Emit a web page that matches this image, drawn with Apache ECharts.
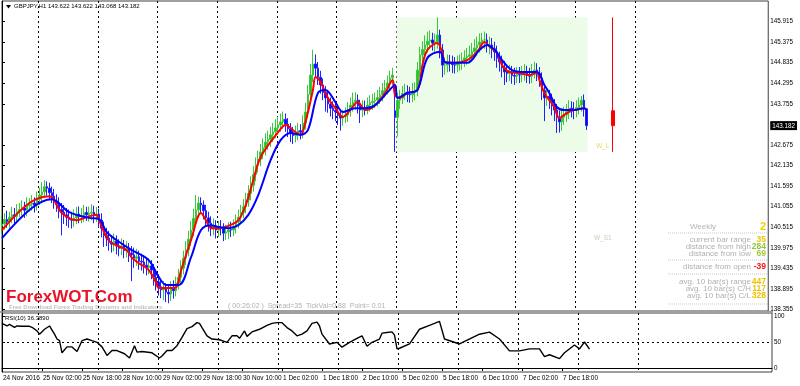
<!DOCTYPE html>
<html><head><meta charset="utf-8">
<script src="https://cdn.jsdelivr.net/npm/echarts@6/dist/echarts.min.js"></script>
<style>html,body{margin:0;padding:0;background:#fff}#c{width:800px;height:386px}</style>
</head><body><div id="c"></div>
<script>
// ---------- DATA ----------
const closes = [140.60,140.72,140.66,140.78,140.84,140.80,140.93,140.98,141.02,140.96,141.08,141.12,141.15,141.09,141.25,141.36,
141.44,141.58,141.54,141.42,141.33,141.20,141.12,140.98,140.91,140.84,140.78,140.72,140.70,140.76,140.86,140.80,
140.81,140.90,140.84,140.88,140.91,140.82,140.86,140.70,140.49,140.30,140.23,140.12,140.07,140.15,140.02,139.96,
140.02,139.90,139.95,139.84,139.79,139.70,139.74,139.62,139.60,139.52,139.46,139.50,139.39,139.20,139.08,138.95,
138.87,138.92,138.81,138.76,138.92,138.85,139.05,139.20,139.44,139.70,139.92,140.20,140.44,140.75,140.97,141.15,
141.10,140.95,140.76,140.62,140.49,140.55,140.44,140.50,140.49,140.36,140.39,140.45,140.44,140.52,140.65,140.78,
140.91,141.05,141.23,141.40,141.62,141.90,142.15,142.30,142.49,142.60,142.75,142.82,142.94,143.02,143.12,143.20,
143.28,143.35,143.22,143.10,142.99,142.92,142.98,143.05,143.01,143.25,143.54,144.00,144.51,144.80,144.69,144.45,
144.25,144.05,143.91,143.75,143.64,143.58,143.54,143.45,143.38,143.42,143.46,143.60,143.72,143.80,143.85,143.70,
143.59,143.65,143.64,143.72,143.78,143.82,143.85,143.92,143.99,144.10,144.17,144.30,144.43,144.51,143.40,143.85,
143.91,144.02,144.06,144.00,143.99,144.08,144.12,144.64,145.04,145.18,145.30,145.40,145.43,145.35,145.38,145.56,
145.17,144.77,144.77,144.85,144.83,144.78,144.77,144.82,144.85,144.90,144.96,145.00,145.04,145.12,145.22,145.30,
145.38,145.43,145.43,145.30,145.30,145.20,145.12,144.95,144.85,144.70,144.59,144.55,144.59,144.50,144.48,144.52,
144.51,144.55,144.59,144.50,144.48,144.60,144.64,144.55,144.43,144.10,143.91,143.95,143.85,143.70,143.59,143.40,
143.28,143.40,143.46,143.55,143.64,143.60,143.59,143.65,143.72,143.85,143.622,143.182];
const opens = [140.55,140.60,140.72,140.66,140.78,140.84,140.80,140.93,140.98,141.02,140.96,141.08,141.12,141.15,141.09,141.25,
141.36,141.44,141.58,141.54,141.42,141.33,141.20,141.12,140.98,140.91,140.84,140.78,140.72,140.70,140.76,140.86,
140.80,140.81,140.90,140.84,140.88,140.91,140.82,140.86,140.70,140.49,140.30,140.23,140.12,140.07,140.15,140.02,
139.96,140.02,139.90,139.95,139.84,139.79,139.70,139.74,139.62,139.60,139.52,139.46,139.50,139.39,139.20,139.08,
138.95,138.87,138.92,138.81,138.76,138.92,138.85,139.05,139.20,139.44,139.70,139.92,140.20,140.44,140.75,140.97,
141.15,141.10,140.95,140.76,140.62,140.49,140.55,140.44,140.50,140.49,140.36,140.39,140.45,140.44,140.52,140.65,
140.78,140.91,141.05,141.23,141.40,141.62,141.90,142.15,142.30,142.49,142.60,142.75,142.82,142.94,143.02,143.12,
143.20,143.28,143.35,143.22,143.10,142.99,142.92,142.98,143.05,143.01,143.25,143.54,144.00,144.51,144.80,144.69,
144.45,144.25,144.05,143.91,143.75,143.64,143.58,143.54,143.45,143.38,143.42,143.46,143.60,143.72,143.80,143.85,
143.70,143.59,143.65,143.64,143.72,143.78,143.82,143.85,143.92,143.99,144.10,144.17,144.30,144.43,143.572,143.40,
143.85,143.91,144.02,144.06,144.00,143.99,144.08,144.12,144.64,145.04,145.18,145.30,145.40,145.43,145.35,145.38,
145.56,145.17,144.77,144.77,144.85,144.83,144.78,144.77,144.82,144.85,144.90,144.96,145.00,145.04,145.12,145.22,
145.30,145.38,145.43,145.43,145.30,145.30,145.20,145.12,144.95,144.85,144.70,144.59,144.55,144.59,144.50,144.48,
144.52,144.51,144.55,144.59,144.50,144.48,144.60,144.64,144.55,144.43,144.10,143.91,143.95,143.85,143.70,143.59,
143.40,143.28,143.40,143.46,143.55,143.64,143.60,143.59,143.65,143.72,143.85,143.622];
const highs = [140.82,140.88,140.95,140.92,141.05,141.02,141.12,141.15,141.22,141.18,141.30,141.28,141.36,141.30,141.45,141.55,
141.70,141.75,141.72,141.68,141.58,141.52,141.38,141.30,141.15,141.10,141.02,140.98,140.92,140.98,141.05,141.06,
141.02,141.10,141.05,141.06,141.12,141.08,141.05,141.00,140.88,140.66,140.50,140.42,140.30,140.35,140.30,140.20,
140.22,140.18,140.15,140.10,140.02,139.98,139.95,139.90,139.82,139.78,139.72,139.70,139.65,139.55,139.40,139.28,
139.12,139.10,139.05,139.02,139.10,139.12,139.22,139.42,139.65,139.90,140.15,140.42,140.68,141.00,141.36,141.32,
141.30,141.22,141.10,140.92,140.80,140.75,140.70,140.68,140.70,140.62,140.58,140.65,140.66,140.72,140.85,140.98,
141.10,141.25,141.42,141.62,141.85,142.12,142.35,142.52,142.70,142.85,142.98,143.05,143.15,143.25,143.35,143.42,
143.50,143.55,143.50,143.38,143.25,143.15,143.18,143.25,143.22,143.45,143.78,144.25,144.80,145.17,145.05,144.85,
144.62,144.42,144.22,144.08,143.92,143.82,143.78,143.72,143.62,143.60,143.66,143.80,143.92,144.05,144.06,144.00,
143.86,143.85,143.84,143.92,143.98,144.02,144.05,144.12,144.20,144.30,144.38,144.50,144.62,144.70,144.25,144.05,
144.12,144.22,144.28,144.24,144.20,144.30,144.32,144.85,145.25,145.40,145.55,145.65,145.68,145.62,145.60,146.022,
145.70,145.32,144.98,145.05,145.04,145.02,144.98,145.02,145.05,145.10,145.16,145.22,145.28,145.35,145.45,145.52,
145.60,145.62,145.65,145.60,145.52,145.48,145.38,145.28,145.12,145.02,144.88,144.78,144.78,144.75,144.70,144.72,
144.72,144.75,144.80,144.75,144.70,144.80,144.86,144.82,144.72,144.58,144.28,144.15,144.12,144.02,143.88,143.75,
143.58,143.60,143.68,143.75,143.85,143.82,143.80,143.85,143.92,143.96,144.00,143.622];
const lows = [140.35,140.45,140.50,140.48,140.62,140.60,140.65,140.78,140.82,140.76,140.80,140.92,140.95,140.90,140.95,141.10,
141.20,141.28,141.35,141.25,141.15,141.00,140.92,140.75,140.30,140.60,140.55,140.50,140.48,140.52,140.60,140.62,
140.62,140.65,140.68,140.66,140.70,140.62,140.65,140.50,140.25,140.00,140.02,139.90,139.85,139.88,139.80,139.75,
139.78,139.70,139.72,139.60,139.10,139.45,139.50,139.40,139.38,139.30,139.25,139.28,139.15,138.98,138.85,138.72,
138.65,138.60,138.55,138.52,138.58,138.64,138.70,138.88,139.02,139.28,139.52,139.75,140.02,140.28,140.58,140.80,
140.90,140.72,140.55,140.40,140.28,140.30,140.22,140.26,140.30,140.15,140.18,140.20,140.26,140.28,140.35,140.48,
140.60,140.75,140.88,141.05,141.22,141.45,141.72,141.95,142.12,142.30,142.40,142.55,142.62,142.75,142.85,142.95,
143.02,143.10,143.02,142.88,142.75,142.70,142.74,142.80,142.82,142.85,143.08,143.38,143.85,144.32,144.45,144.25,
144.02,143.85,143.55,143.52,143.42,143.35,143.30,143.20,143.05,143.18,143.25,143.28,143.42,143.55,143.60,143.50,
143.25,143.40,143.45,143.48,143.55,143.60,143.64,143.68,143.75,143.82,143.92,144.00,144.12,144.25,142.492,142.90,
143.62,143.75,143.85,143.80,143.78,143.80,143.85,143.95,144.45,144.85,145.00,145.10,145.20,145.15,145.12,145.20,
144.95,144.45,144.52,144.58,144.60,144.56,144.55,144.58,144.62,144.65,144.72,144.78,144.82,144.88,144.95,145.02,
145.10,145.18,145.20,145.10,145.05,144.95,144.88,144.70,144.60,144.45,144.25,144.32,144.35,144.28,144.25,144.30,
144.30,144.32,144.36,144.30,144.28,144.30,144.42,144.35,144.20,143.85,143.30,143.70,143.62,143.45,143.30,142.99,
143.00,143.05,143.20,143.28,143.35,143.40,143.35,143.40,143.48,143.55,143.42,143.068];

const redMaIdx = [0,11,19,24,30,34,38,39,42,44,50,52,55,59,62,63,68,70,72,76,80,82,84,87,91,95,98,101,104,111,114,118,120,122,125,126,128,131,134,137,140,143,146,150,154,157,158,160,163,167,169,171,175,177,178,182,187,191,194,196,199,201,204,208,212,215,216,218,220,222,224,227,230,234,235];
const redMaVal = [140.44,141.15,141.33,140.89,140.70,140.78,140.84,140.70,140.26,140.10,139.92,139.73,139.57,139.39,139.05,138.92,138.92,138.94,139.39,140.18,140.89,140.70,140.49,140.49,140.55,140.70,141.10,141.75,142.36,143.01,143.20,143.01,142.94,143.28,144.12,144.46,144.33,143.91,143.64,143.41,143.59,143.80,143.59,143.72,144.04,144.38,143.99,143.91,144.04,144.12,144.77,145.17,145.35,145.09,144.85,144.83,144.90,145.12,145.38,145.25,145.09,144.77,144.59,144.56,144.51,144.56,144.38,144.04,143.85,143.67,143.38,143.51,143.59,143.64,143.59];
const blueMaIdx = [0,12,20,27,35,39,42,46,52,59,63,66,71,76,80,84,87,91,95,99,103,108,112,116,120,123,127,130,134,137,142,146,150,155,158,159,163,167,171,176,178,180,187,192,195,198,201,205,210,215,218,220,223,226,230,234,235];
const blueMaVal = [140.23,141.02,141.25,140.91,140.76,140.73,140.39,140.18,139.92,139.65,139.21,139.00,139.00,139.73,140.44,140.57,140.52,140.49,140.57,140.84,141.36,142.28,142.80,142.99,142.94,143.07,144.04,144.12,143.80,143.54,143.64,143.64,143.72,144.06,144.25,143.91,144.04,144.12,144.96,145.12,144.85,144.83,144.83,145.17,145.30,145.17,144.90,144.64,144.59,144.59,144.25,144.04,143.67,143.59,143.59,143.64,143.59];

const rsiIdx = [0,2,3,5,6,8,11,12,14,15,17,19,21,22,23,24,26,28,30,32,34,36,38,40,42,44,46,49,51,53,54,56,60,63,64,66,68,70,72,74,76,78,79,80,82,84,87,90,92,94,95,97,98,100,103,106,108,110,112,114,116,118,120,122,124,126,127,128,131,134,136,139,142,144,146,148,151,152,154,156,157,158,159,163,167,171,175,177,183,191,195,199,203,207,211,215,217,219,223,225,229,231,233,235];
const rsiVal = [85.8,80.8,84.0,78.3,80.8,80.2,80.2,78.3,71.3,65.1,74.5,80.8,65.1,55.7,52.5,29.2,40.6,40.6,31.7,52.5,55.7,52.5,49.4,40.6,24.2,33.6,33.6,27.4,19.2,43.0,30.6,31.7,29.2,19.2,23.0,33.6,33.6,43.0,58.9,75.8,79.6,87.2,85.8,77.7,61.9,55.7,54.3,49.4,61.9,61.9,57.0,71.3,60.8,69.4,74.5,82.1,85.8,87.2,87.2,77.7,71.3,61.9,65.1,71.3,85.8,88.3,80.8,65.1,46.2,49.4,40.0,49.4,57.0,61.9,41.9,49.4,55.7,67.0,68.3,69.4,63.2,36.8,38.0,46.2,74.5,82.1,89.6,55.7,46.2,65.0,68.9,55.7,33.0,33.0,36.8,36.8,21.7,25.5,18.0,29.2,44.3,36.8,50.0,36.389];

const timeLabels = ['24 Nov 2016','25 Nov 02:00','25 Nov 18:00','28 Nov 10:00','29 Nov 02:00','29 Nov 18:00','30 Nov 10:00','1 Dec 02:00','1 Dec 18:00','2 Dec 10:00','5 Dec 02:00','5 Dec 18:00','6 Dec 10:00','7 Dec 02:00','7 Dec 18:00'];
const timeLabelIdx = [0,16,32,48,64,80,96,112,128,144,160,176,192,208,224];
const gridLineIdx = [14.5,38.5,62.5,86.5,110.5,134.5,158.5,182.5,206.5,230.5,254.5];
const priceTicks = [145.915,145.375,144.835,144.295,143.755,142.675,142.135,141.595,141.055,140.515,139.975,139.435,138.895,138.355];
const rsiTicks = [100,50,0];
const rsiLevels = [50];

const weekRange = [142.492,146.022];      // weekly low / high
const weekOpenClose = [143.572,143.182];  // weekly open / current
const weekBoxIdx = [158.6,235.4];
const weekBarIdx = [245.6];
const pivotNames = ['W_L','W_S1'];
const pivotPrices = [142.65,140.23];
const pivotIdx = [241.5,241.5];

const titleText = 'GBPJPY,H1 143.622 143.622 143.068 143.182';
const rsiTitle = 'RSI(10) 36.3890';
const infoHeader = ['Weekly','2'];
const infoLabels = ['current bar range','distance from high','distance from low','distance from open','avg. 10 bar(s) range','avg. 10 bar(s) C/H','avg. 10 bar(s) C/L'];
const infoValues = ['35','284','69','-39','447','117','328'];
const statusText = '( 00:26:02 )  Spread=35  TickVal=0.88  Point= 0.01';

// ---------- CHART ----------
const chart = echarts.init(document.getElementById('c'), null, {renderer:'canvas'});
const FONT = 'Liberation Sans';
const lastPrice = closes[closes.length-1];
const candleData = closes.map((c,i)=>[i, opens[i], c, lows[i], highs[i]]);
const pair = (a,b)=>a.map((v,i)=>[v,b[i]]);

const infoColors = ['#e8c800','#8cc63f','#a6c93a','#ff1010','#f0c000','#f0c000','#f0c000'];
const infoY = [240,247,254,267,282,289,296];
const pivotColors = ['#e2d040','#b4c4ac'];
const graphics = [];
graphics.push({type:'polygon', shape:{points:[[6,5],[11,5],[8.5,8.5]]}, style:{fill:'#000'}});
graphics.push({type:'text', left:14, top:3, style:{text:titleText, font:'6px '+FONT, fill:'#000'}});
graphics.push({type:'text', left:5, top:315, style:{text:rsiTitle, font:'6px '+FONT, fill:'#000'}});
graphics.push({type:'text', x:703, y:227, style:{text:infoHeader[0], font:'8px '+FONT, fill:'#b4b4b4', align:'center', verticalAlign:'middle'}});
graphics.push({type:'text', x:766, y:227, style:{text:infoHeader[1], font:'bold 11px '+FONT, fill:'#f0d000', align:'right', verticalAlign:'middle'}});
infoLabels.forEach((t,k)=>{
  graphics.push({type:'text', x:751, y:infoY[k], style:{text:t, font:'8px '+FONT, fill:'#b0b0b0', align:'right', verticalAlign:'middle'}});
  graphics.push({type:'text', x:766, y:infoY[k], style:{text:infoValues[k], font:'bold 8.5px '+FONT, fill:infoColors[k], align:'right', verticalAlign:'middle'}});
});
[233,260,274,304].forEach(y=>graphics.push({type:'line', shape:{x1:668,y1:y,x2:768,y2:y}, style:{stroke:'#c8c8c8', lineWidth:1, lineDash:[1,1]}}));
graphics.push({type:'text', x:6, y:289, style:{text:'ForexWOT.Com', font:'bold 17px '+FONT, fill:'#e8142c', textShadowColor:'#9a9a9a', textShadowOffsetX:2, textShadowOffsetY:2, textShadowBlur:0}});
graphics.push({type:'text', x:9, y:304, style:{text:'Free Download Forex Trading Systems and Indicators', font:'bold 6px '+FONT, fill:'#c0c0c0'}});
graphics.push({type:'text', x:228, y:303, style:{text:statusText, font:'7px '+FONT, fill:'#b0b0b0'}});
graphics.push({type:'rect', shape:{x:0,y:311,width:773,height:2}, style:{fill:'#a0a0a0'}});

const option = {
  animation:false,
  backgroundColor:'#fff',
  grid:[
    {left:2, width:770, top:1, height:310, show:true, borderColor:'#404040', borderWidth:1, backgroundColor:'transparent'},
    {left:2, width:770, top:313, height:59, show:true, borderColor:'#404040', borderWidth:1, backgroundColor:'transparent'}
  ],
  xAxis:[
    {type:'value', gridIndex:0, min:0, max:308, axisLine:{show:false}, axisLabel:{show:false},
     axisTick:{show:false, customValues:gridLineIdx},
     splitLine:{show:true, lineStyle:{color:'#000', width:1, type:[2,3]}}},
    {type:'value', gridIndex:1, min:0, max:308, position:'bottom', axisLine:{show:true, lineStyle:{color:'#000'}},
     axisTick:{show:true, length:3, inside:false, customValues:timeLabelIdx, lineStyle:{color:'#000'}},
     axisLabel:{show:true, customValues:timeLabelIdx, align:'left', margin:3, padding:[0,0,0,1],
       fontFamily:FONT, fontSize:6.5, color:'#000',
       formatter:(v)=>{const k=timeLabelIdx.indexOf(Math.round(v)); return k>=0?timeLabels[k]:'';}},
     splitLine:{show:false}},
    {type:'value', gridIndex:1, min:0, max:308, position:'top', axisLine:{show:false}, axisLabel:{show:false},
     axisTick:{show:false, customValues:gridLineIdx},
     splitLine:{show:true, lineStyle:{color:'#000', width:1, type:[2,3]}}}
  ],
  yAxis:[
    {type:'value', gridIndex:0, position:'right', min:138.316, max:146.453, scale:true,
     axisLine:{show:true, lineStyle:{color:'#000'}},
     axisTick:{show:true, length:3, customValues:priceTicks, lineStyle:{color:'#000'}},
     axisLabel:{show:true, customValues:priceTicks.concat([lastPrice]), margin:2, fontFamily:FONT, fontSize:6.3, color:'#000',
       formatter:(v)=> Math.abs(v-lastPrice)<1e-6 ? '{cur|'+v.toFixed(3)+'}' : v.toFixed(3),
       rich:{cur:{backgroundColor:'#000', color:'#fff', padding:[2,2,1,2], fontFamily:FONT, fontSize:6.3}}},
     splitLine:{show:false}},
    {type:'value', gridIndex:1, position:'right', min:-7.69, max:105.77,
     axisLine:{show:true, lineStyle:{color:'#000'}},
     axisTick:{show:true, length:3, customValues:rsiTicks, lineStyle:{color:'#000'}},
     axisLabel:{show:true, customValues:rsiTicks, margin:2, fontFamily:FONT, fontSize:6.3, color:'#000',
       formatter:(v)=>String(Math.round(v))},
     splitLine:{show:false}}
  ],
  series:[
    {type:'line', name:'weekbox', xAxisIndex:0, yAxisIndex:0, data:[[weekBoxIdx[0], weekRange[0]]], symbol:'none',
     lineStyle:{opacity:0}, z:0, silent:true,
     markArea:{silent:true, itemStyle:{color:'#ecfce8'},
       data:[[{coord:[weekBoxIdx[0], weekRange[1]]},{coord:[weekBoxIdx[1], weekRange[0]]}]]}},
    {type:'candlestick', name:'GBPJPY', xAxisIndex:0, yAxisIndex:0, data:candleData, encode:{x:0, y:[1,2,3,4]},
     barWidth:2, z:3,
     itemStyle:{color:'#22c322', color0:'#0000ff', borderColor:'#3cc83c', borderColor0:'#2020ff', borderWidth:1}},
    {type:'line', name:'MA fast', xAxisIndex:0, yAxisIndex:0, data:pair(redMaIdx, redMaVal), symbol:'none', smooth:0.35,
     lineStyle:{color:'#ff0000', width:2}, z:4},
    {type:'line', name:'MA slow', xAxisIndex:0, yAxisIndex:0, data:pair(blueMaIdx, blueMaVal), symbol:'none', smooth:0.35,
     lineStyle:{color:'#0000ff', width:2}, z:5},
    {type:'candlestick', name:'Weekly', xAxisIndex:0, yAxisIndex:0,
     data:[[weekBarIdx[0], weekOpenClose[0], weekOpenClose[1], weekRange[0], weekRange[1]]], encode:{x:0, y:[1,2,3,4]},
     barWidth:3, itemStyle:{color:'#ff0000', color0:'#ff0000', borderColor:'#ff0000', borderColor0:'#ff0000', borderWidth:1}, z:4},
    {type:'scatter', name:'pivots', xAxisIndex:0, yAxisIndex:0, symbolSize:0,
     data:pivotIdx.map((x,k)=>({value:[x, pivotPrices[k]], label:{color:pivotColors[k]}})),
     label:{show:true, position:'inside', formatter:(p)=>pivotNames[p.dataIndex], fontFamily:FONT, fontSize:6.5},
     itemStyle:{color:'transparent'}, z:4},
    {type:'line', name:'RSI', xAxisIndex:1, yAxisIndex:1, data:pair(rsiIdx, rsiVal), symbol:'none',
     lineStyle:{color:'#000', width:1.4},
     markLine:{silent:true, symbol:'none', label:{show:false}, lineStyle:{color:'#000', width:1, type:[2,3]},
       data:rsiLevels.map(v=>({yAxis:v}))}}
  ],
  graphic:graphics
};
chart.setOption(option);
</script></body></html>
